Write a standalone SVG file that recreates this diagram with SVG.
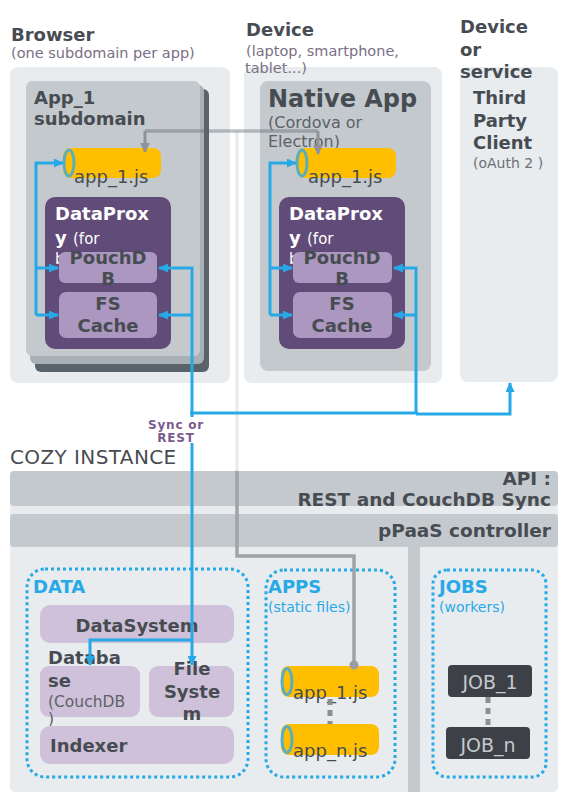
<svg xmlns="http://www.w3.org/2000/svg" width="568" height="803" viewBox="0 0 568 803">
<defs>
<style>
text{font-family:"DejaVu Sans","Liberation Sans",sans-serif;}
.h{font-weight:bold;fill:#474c52;font-size:18px;}
.sub{fill:#7a6f85;font-size:14.5px;}
.panel{fill:#e8ecef;}
.card{fill:#c4c9ce;}
.dp{fill:#614b79;}
.lp{fill:#ab97bf;}
.lav{fill:#cfc1d9;}
.w{fill:#ffffff;font-weight:bold;font-size:18px;}
.yel{fill:#ffbf00;}
.ell{fill:#ffbf00;stroke:#5aaec0;stroke-width:3;}
.js{fill:#474c52;font-size:18px;}
.blue{fill:none;stroke:#27a9e8;stroke-width:3;}
.bt{fill:#27a9e8;font-weight:bold;font-size:18px;}
.bs{fill:#27a9e8;font-size:14px;}
.dot{fill:none;stroke:#27a9e8;stroke-width:3;stroke-dasharray:3 3;}
.job{fill:#3d4147;}
.jt{fill:#c6cacd;font-size:19px;}
.dash{fill:none;stroke:#8a8f94;stroke-width:5;stroke-dasharray:6 5;}
.lbl{fill:#7a5a8c;font-size:12px;font-weight:bold;letter-spacing:0.8px;}
.api{font-weight:bold;fill:#474c52;font-size:18.5px;}
</style>
<marker id="ab" viewBox="0 0 10 9" refX="9" refY="4.5" markerWidth="10" markerHeight="9" markerUnits="userSpaceOnUse" orient="auto"><path d="M0,0 L10,4.5 L0,9 z" fill="#27a9e8"/></marker>
<marker id="ag" viewBox="0 0 10 10" refX="9" refY="5" markerWidth="10" markerHeight="10" markerUnits="userSpaceOnUse" orient="auto"><path d="M0,0 L10,5 L0,10 z" fill="#8f9397"/></marker>
</defs>
<rect width="568" height="803" fill="#ffffff"/>

<g id="browser">
<rect class="panel" x="10" y="67" width="220" height="316" rx="8"/>
<text class="h" x="11" y="41">Browser</text>
<text class="sub" x="11" y="58">(one subdomain per app)</text>
</g>
<g id="app1-subdomain">
<rect x="35" y="89" width="174" height="283" rx="6" fill="#5a6369"/>
<rect x="30" y="85" width="174" height="279" rx="6" fill="#a8b0b7"/>
<rect class="card" x="26" y="81" width="174" height="275" rx="6"/>
<text class="h" x="34" y="104">App_1</text>
<text class="h" x="34" y="125">subdomain</text>
</g>
<g id="browser-app1js">
<rect class="yel" x="63" y="148" width="98" height="30" rx="8"/>
<ellipse class="ell" cx="69" cy="163" rx="5" ry="13"/>
<text class="js" x="74" y="183">app_1.js</text>
</g>
<g id="browser-dataproxy">
<rect class="dp" x="45" y="197" width="126" height="152" rx="10"/>
<text class="w" x="55" y="220">DataProx</text>
<text class="w" x="55" y="244">y <tspan style="font-weight:normal;font-size:15px">(for</tspan></text>
<text x="55" y="264" fill="#ffffff" font-size="15">b</text>
</g>
<g id="browser-pouchdb">
<rect class="lp" x="59" y="252" width="98" height="31" rx="6"/>
<text class="h" x="108" y="264" text-anchor="middle">PouchD</text>
<text class="h" x="108" y="285" text-anchor="middle">B</text>
</g>
<g id="browser-fscache">
<rect class="lp" x="59" y="292" width="98" height="46" rx="7"/>
<text class="h" x="108" y="310" text-anchor="middle">FS</text>
<text class="h" x="108" y="332" text-anchor="middle">Cache</text>
</g>

<g id="device">
<rect class="panel" x="244" y="67" width="198" height="316" rx="8"/>
<text class="h" x="246" y="36">Device</text>
<text class="sub" x="246" y="56">(laptop, smartphone,</text>
<text class="sub" x="245" y="73">tablet...)</text>
</g>
<g id="native-app">
<rect class="card" x="260" y="81" width="171" height="290" rx="8"/>
<text class="h" x="268" y="107" style="font-size:24px">Native App</text>
<text x="268" y="128" fill="#5c6167" font-size="16">(Cordova or</text>
<text x="268" y="147" fill="#5c6167" font-size="16">Electron)</text>
</g>
<g id="native-app1js">
<rect class="yel" x="297" y="148" width="99" height="30" rx="8"/>
<ellipse class="ell" cx="302" cy="163" rx="5" ry="13"/>
<text class="js" x="308" y="183">app_1.js</text>
</g>
<g id="native-dataproxy">
<rect class="dp" x="279" y="197" width="126" height="152" rx="10"/>
<text class="w" x="289" y="220">DataProx</text>
<text class="w" x="289" y="244">y <tspan style="font-weight:normal;font-size:15px">(for</tspan></text>
<text x="289" y="264" fill="#ffffff" font-size="15">b</text>
</g>
<g id="native-pouchdb">
<rect class="lp" x="293" y="252" width="99" height="31" rx="6"/>
<text class="h" x="342" y="264" text-anchor="middle">PouchD</text>
<text class="h" x="342" y="285" text-anchor="middle">B</text>
</g>
<g id="native-fscache">
<rect class="lp" x="293" y="292" width="99" height="46" rx="7"/>
<text class="h" x="342" y="310" text-anchor="middle">FS</text>
<text class="h" x="342" y="332" text-anchor="middle">Cache</text>
</g>

<g id="third-party">
<rect class="panel" x="460" y="67" width="98" height="315" rx="8"/>
<text class="h" x="460" y="33">Device</text>
<text class="h" x="460" y="56">or</text>
<text class="h" x="460" y="78">service</text>
<text class="h" x="473" y="104">Third</text>
<text class="h" x="473" y="127">Party</text>
<text class="h" x="473" y="149">Client</text>
<text x="473" y="168" fill="#6b6f75" font-size="14">(oAuth 2 )</text>
</g>

<g id="cozy-instance">
<rect class="panel" x="10" y="471" width="548" height="321" rx="5"/>
<rect x="408" y="547" width="12" height="245" fill="#c4c9ce"/>
<text x="10" y="464" fill="#474c52" font-size="20" letter-spacing="0.4">COZY INSTANCE</text>
</g>
<g id="api">
<rect class="card" x="10" y="471" width="548" height="35" rx="4"/>
<text class="api" x="551" y="485" text-anchor="end">API :</text>
<text class="api" x="551" y="506" text-anchor="end">REST and CouchDB Sync</text>
</g>
<g id="ppaas">
<rect class="card" x="10" y="514" width="548" height="33" rx="4"/>
<text class="api" x="551" y="537" text-anchor="end">pPaaS controller</text>
</g>

<g id="data">
<rect class="dot" x="27" y="569" width="221" height="208" rx="18"/>
<text class="bt" x="33" y="593">DATA</text>
</g>
<g id="datasystem">
<rect class="lav" x="40" y="605" width="194" height="38" rx="10"/>
<text class="h" x="137" y="632" text-anchor="middle">DataSystem</text>
</g>
<g id="database">
<rect class="lav" x="40" y="666" width="100" height="51" rx="9"/>
<text class="h" x="48" y="664">Databa</text>
<text class="h" x="48" y="687">se</text>
<text x="48" y="707" fill="#5c6167" font-size="15.5">(CouchDB</text>
<text x="48" y="724" fill="#5c6167" font-size="15.5">)</text>
</g>
<g id="filesystem">
<rect class="lav" x="149" y="666" width="85" height="51" rx="9"/>
<text class="h" x="192" y="675" text-anchor="middle">File</text>
<text class="h" x="192" y="698" text-anchor="middle">Syste</text>
<text class="h" x="192" y="720" text-anchor="middle">m</text>
</g>
<g id="indexer">
<rect class="lav" x="40" y="726" width="194" height="38" rx="10"/>
<text class="h" x="50" y="752">Indexer</text>
</g>

<g id="apps">
<rect class="dot" x="266" y="570" width="129" height="207" rx="18"/>
<text class="bt" x="268" y="593">APPS</text>
<text class="bs" x="268" y="612">(static files)</text>
</g>
<g id="apps-app1js">
<rect class="yel" x="281" y="666" width="98" height="31" rx="8"/>
<ellipse class="ell" cx="287" cy="681.5" rx="5" ry="13"/>
<text class="js" x="293" y="699">app_1.js</text>
</g>
<g id="apps-appnjs">
<rect class="yel" x="281" y="724" width="98" height="31" rx="8"/>
<ellipse class="ell" cx="287" cy="739.5" rx="5" ry="13"/>
<text class="js" x="293" y="757">app_n.js</text>
</g>

<g id="jobs">
<rect class="dot" x="433" y="570" width="113" height="207" rx="14"/>
<text class="bt" x="439" y="593">JOBS</text>
<text class="bs" x="439" y="612">(workers)</text>
</g>
<g id="job1">
<rect class="job" x="448" y="665" width="84" height="32" rx="4"/>
<text class="jt" x="490" y="689" text-anchor="middle">JOB_1</text>
</g>
<g id="jobn">
<rect class="job" x="446" y="727" width="84" height="32" rx="4"/>
<text class="jt" x="488" y="752" text-anchor="middle">JOB_n</text>
</g>

<g id="connectors">
<path d="M237,471 V131" fill="none" stroke="#ebebeb" stroke-width="3.5"/>
<path d="M354,665 V556 H237 V471" fill="none" stroke="#a0a4a8" stroke-width="3.5"/>
<path d="M145,131 H318" fill="none" stroke="#5d646b" stroke-opacity="0.4" stroke-width="3.5"/>
<path d="M145,131 V152" fill="none" stroke="#8f9397" stroke-width="3" marker-end="url(#ag)"/>
<path d="M318,131 V154" fill="none" stroke="#8f9397" stroke-width="3" marker-end="url(#ag)"/>
<circle cx="354" cy="665" r="4.5" fill="#9a9ea2"/>
<path class="dash" d="M330,699 V724"/>
<path class="dash" d="M488,697 V727"/>

<path class="blue" d="M36,315 V163 H63" marker-end="url(#ab)"/>
<path class="blue" d="M36,268 H58" marker-end="url(#ab)"/>
<path class="blue" d="M36,315 H58" marker-end="url(#ab)"/>
<path class="blue" d="M192,413 V268 H159" marker-end="url(#ab)"/>
<path class="blue" d="M192,315 H159" marker-end="url(#ab)"/>
<path class="blue" d="M270,315 V163 H296" marker-end="url(#ab)"/>
<path class="blue" d="M270,268 H292" marker-end="url(#ab)"/>
<path class="blue" d="M270,315 H292" marker-end="url(#ab)"/>
<path class="blue" d="M416,413 V268 H394" marker-end="url(#ab)"/>
<path class="blue" d="M416,315 H394" marker-end="url(#ab)"/>
<path class="blue" d="M190,413 H418" stroke-width="4"/>
<path class="blue" d="M416,414 H510 V383" stroke-width="2.5" marker-end="url(#ab)"/>
<path class="blue" d="M192,413 V665" marker-end="url(#ab)"/>
<path class="blue" d="M192,640 H90 V665" marker-end="url(#ab)"/>
<rect x="146" y="417" width="60" height="26" fill="#ffffff"/>
<text class="lbl" x="176" y="429" text-anchor="middle">Sync or</text>
<text class="lbl" x="176" y="442" text-anchor="middle">REST</text>
</g>
</svg>
